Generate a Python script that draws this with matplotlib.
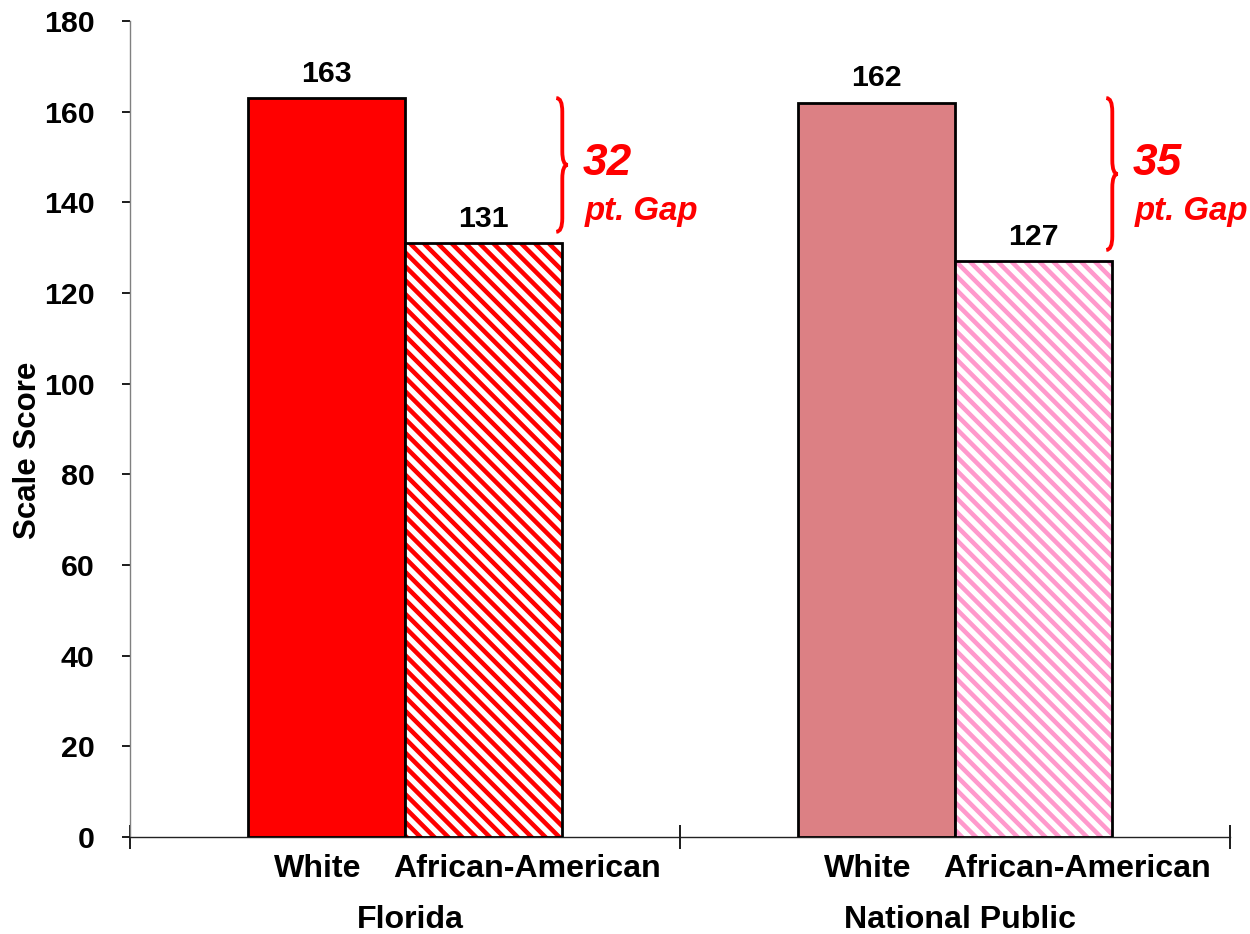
import matplotlib
matplotlib.use('Agg')
import matplotlib.pyplot as plt
from matplotlib.path import Path
from matplotlib.patches import PathPatch
import matplotlib.transforms as mtransforms

plt.rcParams['font.family'] = ['Liberation Sans', 'DejaVu Sans']
plt.rcParams['font.weight'] = 'bold'
plt.rcParams['hatch.linewidth'] = 2.6

# data
groups = ["Florida", "National Public"]
races = ["White", "African-American"]
white_scores = [163, 162]
aa_scores = [131, 127]
gaps = [32, 35]
white_colors = ['#FF0000', '#DC8084']
aa_hatch_colors = ['#FF0000', '#FF99CC']
yticks = [0, 20, 40, 60, 80, 100, 120, 140, 160, 180]

fig = plt.figure(figsize=(10, 7.472), dpi=125)
ax = fig.add_axes([0.104, 0.1039, 0.88, 0.8736])

w = 0.285
for i in range(len(groups)):
    cx = i + 0.5
    # white bar
    ax.bar(cx - w / 2, white_scores[i], width=w, color=white_colors[i],
           edgecolor='black', linewidth=1.6, zorder=3)
    # African-American bar: hatch layer then outline
    ax.bar(cx + w / 2, aa_scores[i], width=w, color='white',
           edgecolor=aa_hatch_colors[i], hatch='\\\\\\', linewidth=0, zorder=3)
    ax.bar(cx + w / 2, aa_scores[i], width=w, fill=False,
           edgecolor='black', linewidth=1.6, zorder=4)
    # value labels
    ax.annotate(str(white_scores[i]), (cx - w / 2, white_scores[i]),
                xytext=(0, 6), textcoords='offset points', ha='center',
                va='bottom', fontsize=17.5, fontweight='bold')
    ax.annotate(str(aa_scores[i]), (cx + w / 2, aa_scores[i]),
                xytext=(0, 6), textcoords='offset points', ha='center',
                va='bottom', fontsize=17.5, fontweight='bold')

    # brace showing the gap
    top = max(white_scores)
    bot = aa_scores[i] + 2.5
    mid = (top + bot) / 2
    x0 = cx + w - 0.01
    dx = 0.011
    verts = [(x0, top), (x0 + dx, top), (x0 + dx, top - 3),
             (x0 + dx, mid + 3), (x0 + dx, mid), (x0 + 1.9 * dx, mid),
             (x0 + dx, mid), (x0 + dx, mid - 3),
             (x0 + dx, bot + 3), (x0 + dx, bot), (x0, bot)]
    codes = [Path.MOVETO, Path.CURVE3, Path.CURVE3,
             Path.LINETO, Path.CURVE3, Path.CURVE3,
             Path.CURVE3, Path.CURVE3,
             Path.LINETO, Path.CURVE3, Path.CURVE3]
    ax.add_patch(PathPatch(Path(verts, codes), fill=False, edgecolor='#FF0000',
                           linewidth=2.2, zorder=5, clip_on=False))

    # gap text
    ax.text(x0 + 0.092, top - 14.5, str(gaps[i]), color='#FF0000', fontsize=25.5,
            fontstyle='italic', fontweight='bold', ha='center', va='center')
    ax.text(x0 + 0.155, top - 25, "pt. Gap", color='#FF0000', fontsize=19,
            fontstyle='italic', fontweight='bold', ha='center', va='center')

ax.set_xlim(0, 2)
ax.set_ylim(0, 180)
ax.set_yticks(yticks)
ax.set_yticklabels([str(t) for t in yticks], fontsize=17.5, fontweight='bold')
ax.tick_params(axis='y', direction='out', length=4.5, width=1, pad=16)

ax.set_xticks([0, 1, 2])
ax.set_xticklabels([])
ax.tick_params(axis='x', which='major', direction='inout', length=14, width=1)

# category labels under each group
minor_pos = []
minor_lab = []
for i in range(len(groups)):
    minor_pos += [i + 0.5 - 0.158, i + 0.5 + 0.222]
    minor_lab += races
ax.set_xticks(minor_pos, minor=True)
ax.set_xticklabels(minor_lab, minor=True, fontsize=18.5, fontweight='bold')
ax.tick_params(axis='x', which='minor', length=0, pad=10)

trans = mtransforms.blended_transform_factory(ax.transData, ax.transAxes)
for i, g in enumerate(groups):
    ax.text(i + 0.5 + 0.01, -0.102, g, transform=trans, ha='center', va='center',
            fontsize=18.5, fontweight='bold')

ax.set_ylabel("Scale Score", fontsize=18, fontweight='bold')
ax.yaxis.set_label_coords(-0.079, 0.474)

ax.spines['top'].set_visible(False)
ax.spines['right'].set_visible(False)
ax.spines['left'].set_color('#808080')
ax.spines['bottom'].set_color('#222222')

fig.savefig("out.png", dpi=125)
